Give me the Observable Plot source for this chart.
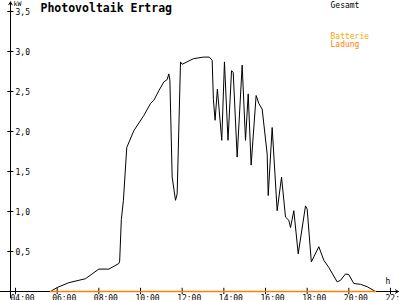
<!DOCTYPE html>
<html><head><meta charset="utf-8">
<script src="https://cdn.jsdelivr.net/npm/d3@7"></script>
<script src="https://cdn.jsdelivr.net/npm/@observablehq/plot@0.6"></script>
<style>body{margin:0;overflow:hidden;background:#fff}</style>
</head><body><div id="chart"></div>
<script>
const hours = [4.0, 5.68, 6.0, 6.56, 7.36, 7.68, 8.0, 8.48, 8.96, 9.0, 9.08, 9.18, 9.34, 9.68, 10.16, 10.48, 10.64, 10.88, 11.12, 11.28, 11.36, 11.41, 11.52, 11.68, 11.76, 11.92, 12.0, 12.54, 13.02, 13.3, 13.44, 13.5, 13.58, 13.69, 13.9, 14.03, 14.2, 14.37, 14.45, 14.64, 14.88, 15.04, 15.17, 15.31, 15.55, 15.68, 15.84, 16.08, 16.13, 16.32, 16.56, 16.77, 16.96, 17.12, 17.2, 17.36, 17.57, 17.92, 18.0, 18.2, 18.56, 18.8, 19.04, 19.44, 19.6, 19.84, 20.0, 20.24, 20.56, 20.88, 21.28, 22.0];
const kw = [0, 0, 0.05, 0.11, 0.16, 0.22, 0.28, 0.28, 0.35, 0.38, 0.9, 1.14, 1.8, 2.01, 2.2, 2.35, 2.39, 2.51, 2.62, 2.65, 2.72, 2.64, 1.43, 1.14, 1.22, 2.87, 2.84, 2.91, 2.93, 2.93, 2.89, 2.4, 2.14, 2.53, 1.89, 2.87, 1.89, 2.76, 2.74, 1.68, 2.83, 1.89, 2.47, 1.58, 2.45, 2.35, 2.28, 1.72, 1.2, 2.05, 1.01, 1.43, 0.93, 0.89, 0.8, 1.01, 0.47, 1.07, 1.03, 0.37, 0.56, 0.39, 0.3, 0.12, 0.14, 0.22, 0.21, 0.1, 0.09, 0.06, 0, 0];
const battHours = [5.68, 21.28];
const battKw = [0, 0];
const xTicks = [4, 6, 8, 10, 12, 14, 16, 18, 20, 22];
const xTickLabels = ["04:00", "06:00", "08:00", "10:00", "12:00", "14:00", "16:00", "18:00", "20:00", "22:00"];
const yTicks = [0.5, 1.0, 1.5, 2.0, 2.5, 3.0, 3.5];
const yTickLabels = ["0,5", "1,0", "1,5", "2,0", "2,5", "3,0", "3,5"];
const title = "Photovoltaik Ertrag";
const legendLabels = ["Gesamt", "Batterie", "Ladung"];
const legendColors = ["#000000", "#ffa500", "#ff8000"];

const gesamt = hours.map((h, i) => ({h, v: kw[i]}));
const batt = battHours.map((h, i) => ({h, v: battKw[i]}));
const legendDy = [-9, 22, 30];

const chart = Plot.plot({
  width: 400, height: 300,
  marginLeft: 15, marginRight: 10, marginTop: 11, marginBottom: 9,
  x: {domain: [4, 22], axis: null},
  y: {domain: [0, 3.5], axis: null},
  style: {fontFamily: "DejaVu Sans Mono", fontSize: "8px", background: "#fff", color: "#000"},
  marks: [
    Plot.arrow([0], {x1: 3.76, x2: 3.76, y1: -0.08, y2: 3.62, headLength: 5, stroke: "#000", strokeWidth: 1}),
    Plot.arrow([0], {x1: 3.28, x2: 22.38, y1: 0, y2: 0, headLength: 5, stroke: "#000", strokeWidth: 1}),
    Plot.ruleY(yTicks, {y: d => d, x1: 3.63, x2: 3.92, stroke: "#000"}),
    Plot.ruleX(xTicks, {x: d => d, y1: -0.04, y2: 0.04, stroke: "#000"}),
    Plot.text(yTicks, {x: 3.76, y: d => d, text: (d, i) => yTickLabels[i], textAnchor: "start", dx: 5, dy: 1, fill: "#000"}),
    Plot.text(xTicks, {x: d => d, y: 0, text: (d, i) => xTickLabels[i], textAnchor: "start", dx: -5, lineAnchor: "top", dy: 4, fill: "#000"}),
    Plot.line(gesamt, {x: "h", y: "v", stroke: "#000", strokeWidth: 1}),
    Plot.line(batt, {x: "h", y: "v", stroke: "#ff8000", strokeWidth: 1.3}),
    Plot.text([title], {text: d => d, frameAnchor: "top-left", dx: 25, dy: -8, lineAnchor: "top", textAnchor: "start", fontWeight: "bold", fontSize: 11.5, fill: "#000"}),
    ...legendLabels.map((t, i) => Plot.text([t], {text: d => d, frameAnchor: "top-right", dx: -60, dy: legendDy[i], lineAnchor: "top", textAnchor: "start", fill: legendColors[i]})),
    Plot.text(["kW"], {text: d => d, frameAnchor: "top-left", dx: -2, dy: -10, lineAnchor: "top", textAnchor: "start", fontSize: 6.5, fill: "#000"}),
    Plot.text(["h"], {text: d => d, frameAnchor: "bottom-right", dx: -5, dy: -13, lineAnchor: "top", textAnchor: "start", fill: "#000"})
  ]
});
document.getElementById("chart").appendChild(chart);
</script>
</body></html>
